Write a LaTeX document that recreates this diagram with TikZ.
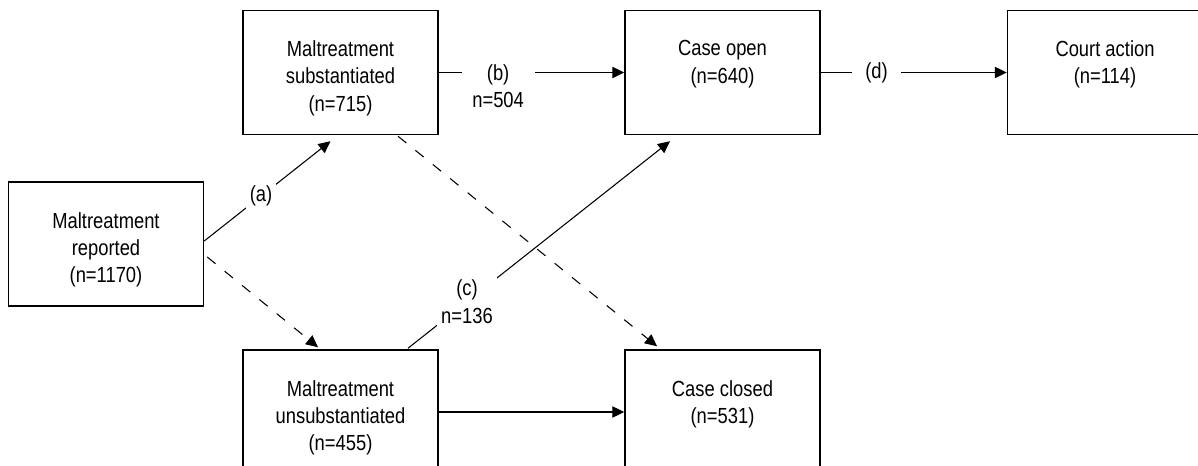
\documentclass[tikz,border=0pt]{standalone}
\usepackage{fontspec}
\setmainfont[FakeStretch=0.84]{Liberation Sans}
\usetikzlibrary{arrows.meta}
\tikzset{
  x=0.75pt, y=-0.75pt,
  txtfont/.style={font=\fontsize{16.4}{20.5}\selectfont},
  box/.style={draw, line width=1.1pt, minimum width=146.25pt, minimum height=93pt, inner sep=0pt},
  boxtext/.style={txtfont, anchor=north, yshift=-23pt, align=center, inner sep=0pt},
  lab/.style={txtfont, fill=white, align=center, inner xsep=8pt, inner ysep=3pt},
  conn/.style={line width=0.8pt, -{Triangle[length=9pt,width=8.5pt]}},
  dconn/.style={conn, dash pattern=on 8pt off 8.8pt},
}
\begin{document}
\begin{tikzpicture}
\useasboundingbox (0,0) rectangle (1198,466);
\clip (0,0) rectangle (1198,466);
\node[box, label={[boxtext]north:Maltreatment\\reported\\(n=1170)}] (rep) at (106,244) {};
\node[box, label={[boxtext]north:Maltreatment\\substantiated\\(n=715)}] (sub) at (340.5,72.5) {};
\node[box, label={[boxtext]north:Maltreatment\\unsubstantiated\\(n=455)}] (uns) at (340.5,412) {};
\node[box, label={[boxtext]north:Case open\\(n=640)}] (open) at (722.5,72.5) {};
\node[box, label={[boxtext]north:Case closed\\(n=531)}] (closed) at (722.5,412) {};
\node[box, label={[boxtext]north:Court action\\(n=114)}] (court) at (1105,72.5) {};

\draw[conn] ([shift={(0,-3)}]rep.east) -- node[lab, inner sep=3pt, pos=0.45] {(a)} ([shift={(-10,6)}]sub.south);
\draw[dconn] ([shift={(3,13)}]rep.east) -- ([shift={(-22.5,-2)}]uns.north);
\draw[conn] (sub.east) -- node[lab, pos=0.32, yshift=-10.3pt] {(b)\\n=504} (open.west);
\draw[conn] (open.east) -- node[lab, pos=0.30, inner xsep=10pt] {(d)} (court.west);
\draw[dconn] ([shift={(57.5,1)}]sub.south) -- ([shift={(-65.5,-3)}]closed.north);
\draw[conn] ([shift={(67.5,-1)}]uns.north) -- node[lab, inner sep=3pt, pos=0.225] {(c)\\n=136} ([shift={(-52.5,6)}]open.south);
\draw[conn] (uns.east) -- (closed.west);
\end{tikzpicture}
\end{document}
